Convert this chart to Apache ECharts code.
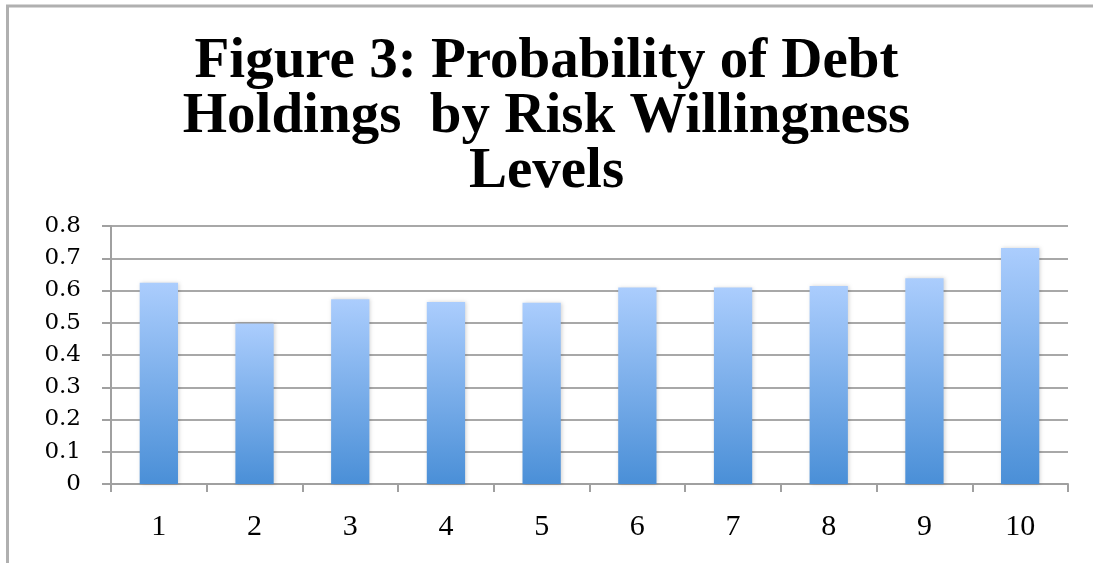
<!DOCTYPE html>
<html>
<head>
<meta charset="utf-8">
<script src="https://cdn.jsdelivr.net/npm/echarts@6/dist/echarts.min.js"></script>
<style>
html,body{margin:0;padding:0;background:#fff;}
#chart{width:1093px;height:563px;}
</style>
</head>
<body>
<div id="chart"></div>
<script>
const categories = ['1','2','3','4','5','6','7','8','9','10'];
const probabilities = [0.624, 0.498, 0.573, 0.564, 0.562, 0.609, 0.609, 0.614, 0.638, 0.732];
const yTicks = [0, 0.1, 0.2, 0.3, 0.4, 0.5, 0.6, 0.7, 0.8];
const titleText = 'Figure 3: Probability of Debt\nHoldings  by Risk Willingness\nLevels';

const chart = echarts.init(document.getElementById('chart'));
chart.setOption({
  animation: false,
  backgroundColor: '#ffffff',
  title: {
    text: titleText,
    left: 'center',
    top: 30,
    textStyle: {
      fontFamily: 'Liberation Serif',
      fontWeight: 'bold',
      fontSize: 57,
      lineHeight: 55,
      color: '#000'
    }
  },
  graphic: [
    { type: 'line', shape: { x1: 6, y1: 6, x2: 1093, y2: 6 }, style: { stroke: '#b0b0b0', lineWidth: 3 } },
    { type: 'line', shape: { x1: 7.5, y1: 5, x2: 7.5, y2: 563 }, style: { stroke: '#b0b0b0', lineWidth: 3 } }
  ],
  grid: { left: 111, right: 25, top: 226, bottom: 79, containLabel: false },
  xAxis: {
    type: 'category',
    data: categories,
    boundaryGap: true,
    axisLine: { lineStyle: { color: '#a0a0a0', width: 2 } },
    axisTick: { show: true, length: 8, lineStyle: { color: '#a0a0a0', width: 2 } },
    axisLabel: { margin: 28, fontFamily: 'Liberation Serif', fontSize: 30, color: '#000' }
  },
  yAxis: {
    type: 'value',
    min: 0,
    max: 0.8,
    interval: 0.1,
    axisLine: { show: true, lineStyle: { color: '#a0a0a0', width: 2 } },
    axisTick: { show: true, length: 9, lineStyle: { color: '#a0a0a0', width: 2 } },
    splitLine: { show: true, lineStyle: { color: '#a8a8a8', width: 2 } },
    axisLabel: {
      margin: 30,
      fontFamily: 'DejaVu Serif',
      fontSize: 23,
      color: '#000',
      formatter: v => {
        const t = yTicks.find(k => Math.abs(k - v) < 1e-9);
        return t === 0 ? '0' : String(+(t !== undefined ? t : v).toFixed(1));
      }
    }
  },
  series: [{
    type: 'bar',
    data: probabilities,
    barWidth: '40%',
    itemStyle: {
      color: new echarts.graphic.LinearGradient(0, 0, 0, 1, [
        { offset: 0, color: '#abcdfd' },
        { offset: 1, color: '#4a8fd7' }
      ]),
      shadowColor: 'rgba(0,0,0,0.18)',
      shadowBlur: 4,
      shadowOffsetX: 1,
      shadowOffsetY: 0
    }
  }]
});
</script>
</body>
</html>
